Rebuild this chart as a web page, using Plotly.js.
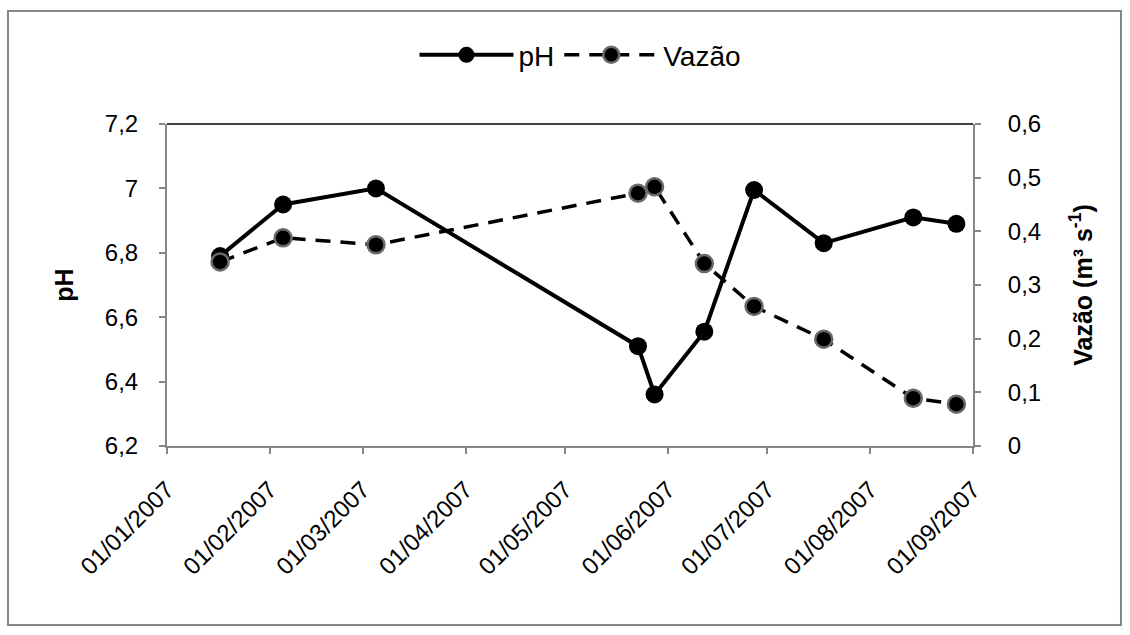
<!DOCTYPE html>
<html>
<head>
<meta charset="utf-8">
<script src="https://cdn.plot.ly/plotly-3.0.1.min.js"></script>
<style>html,body{margin:0;padding:0;background:#fff;}#chart{width:1130px;height:635px;}</style>
</head>
<body>
<div id="chart"></div>
<script>
var dates = ['2007-01-17','2007-02-05','2007-03-05','2007-05-23','2007-05-28','2007-06-12','2007-06-27','2007-07-18','2007-08-14','2007-08-27'];
var phValues = [6.79, 6.95, 7.00, 6.51, 6.36, 6.555, 6.995, 6.83, 6.91, 6.89];
var vazaoValues = [0.343, 0.388, 0.375, 0.471, 0.483, 0.340, 0.26, 0.199, 0.089, 0.078];
var xRange = ['2007-01-01', '2007-09-01'];
var phRange = [6.2, 7.2];
var vazaoRange = [0, 0.6];

var FONT = 'Liberation Sans, Arial, sans-serif';
var AX = '#868686';

var traces = [
  {
    x: dates, y: phValues, name: 'pH', type: 'scatter', mode: 'lines+markers',
    line: {color: '#000', width: 4},
    marker: {color: '#000', size: 18, line: {width: 0}},
    xaxis: 'x', yaxis: 'y'
  },
  {
    x: dates, y: vazaoValues, name: 'Vazão', type: 'scatter', mode: 'lines+markers',
    line: {color: '#000', width: 3.5, dash: '15px,10px'},
    marker: {color: '#000', size: 17, line: {color: '#6a6a6a', width: 2.5}},
    xaxis: 'x', yaxis: 'y2'
  }
];

var tickFont = {family: FONT, size: 24, color: '#000'};
var titleFont = {family: FONT, size: 25, color: '#000'};

var layout = {
  width: 1130, height: 635,
  margin: {l: 167, r: 157, t: 124, b: 189},
  paper_bgcolor: '#fff', plot_bgcolor: '#fff',
  showlegend: true,
  legend: {orientation: 'h', x: 0.513, xanchor: 'center', y: 1.214, yanchor: 'middle',
           font: {family: FONT, size: 28, color: '#000'}, itemwidth: 94, bgcolor: 'rgba(0,0,0,0)'},
  xaxis: {
    type: 'date', range: xRange, autorange: false,
    tick0: '2007-01-01', dtick: 'M1', tickformat: '%d/%m/%Y', tickangle: -45,
    showgrid: false, zeroline: false,
    showline: true, linecolor: AX, linewidth: 2,
    ticks: 'outside', ticklen: 6, tickwidth: 2, tickcolor: AX,
    tickfont: tickFont, ticklabelstandoff: 12
  },
  xaxis2: {
    type: 'date', range: xRange, autorange: false, overlaying: 'x', anchor: 'y',
    tick0: '2007-01-01', dtick: 'M1', showticklabels: false,
    showgrid: false, zeroline: false, showline: false,
    ticks: 'inside', ticklen: 6, tickwidth: 2, tickcolor: AX
  },
  yaxis: {
    range: phRange, autorange: false, dtick: 0.2, tick0: 6.2,
    showgrid: false, zeroline: false,
    showline: true, linecolor: AX, linewidth: 2,
    ticks: 'outside', ticklen: 6, tickwidth: 2, tickcolor: AX,
    tickfont: tickFont, ticklabelstandoff: 16,
    title: {text: '<b>pH</b>', font: titleFont, standoff: 24}
  },
  yaxis2: {
    range: vazaoRange, autorange: false, dtick: 0.1, tick0: 0,
    overlaying: 'y', side: 'right', anchor: 'x',
    showgrid: false, zeroline: false,
    showline: true, linecolor: AX, linewidth: 2,
    ticks: 'outside', ticklen: 6, tickwidth: 2, tickcolor: AX,
    tickfont: tickFont, ticklabelstandoff: 22,
    title: {text: '<b>Vazão (m³ s<sup>-1</sup>)</b>', font: titleFont, standoff: 34}
  },
  yaxis3: {
    range: phRange, autorange: false, dtick: 0.2, tick0: 6.2,
    overlaying: 'y', side: 'left', anchor: 'x', showticklabels: false,
    showgrid: false, zeroline: false, showline: false,
    ticks: 'inside', ticklen: 6, tickwidth: 2, tickcolor: AX
  },
  yaxis4: {
    range: vazaoRange, autorange: false, dtick: 0.1, tick0: 0,
    overlaying: 'y', side: 'right', anchor: 'x', showticklabels: false,
    showgrid: false, zeroline: false, showline: false,
    ticks: 'inside', ticklen: 6, tickwidth: 2, tickcolor: AX
  },
  separators: ',.',
  shapes: [
    {type: 'line', xref: 'paper', yref: 'paper', x0: 0, x1: 1, y0: 1, y1: 1,
     line: {color: '#000', width: 1.5}, layer: 'below'},
    {type: 'rect', xref: 'paper', yref: 'paper', x0: -0.1973, x1: 1.1836, y0: -0.556, y1: 1.351,
     line: {color: AX, width: 2}, fillcolor: 'rgba(0,0,0,0)', layer: 'below'}
  ]
};

Plotly.newPlot('chart', traces, layout, {displayModeBar: false, staticPlot: true});
</script>
</body>
</html>
